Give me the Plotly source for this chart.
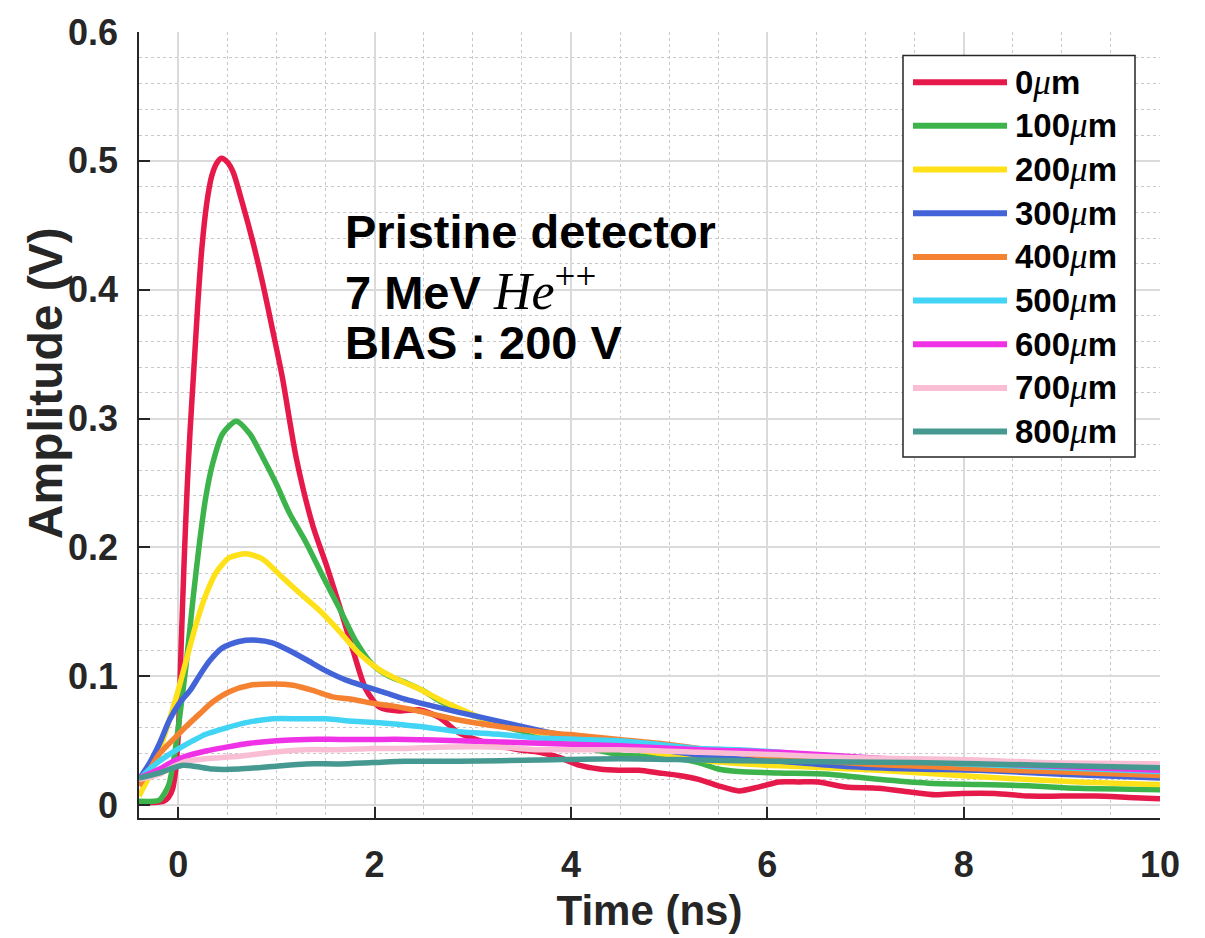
import plotly.graph_objects as go

# ---------------- data ----------------
labels = ["0", "100", "200", "300", "400", "500", "600", "700", "800"]
colors = ["#E6194B", "#3CB44B", "#FFE119", "#4363D8", "#F58231",
          "#42D4F4", "#F032E6", "#FABED4", "#469990"]

t_0 = [-0.4, -0.25, -0.15, -0.1, -0.06, -0.03, 0.0, 0.03, 0.06, 0.09,
       0.12, 0.16, 0.2, 0.24, 0.29, 0.34, 0.39, 0.44, 0.5, 0.56,
       0.65, 0.76, 0.86, 0.96, 1.06, 1.2, 1.37, 1.51, 1.64, 1.78,
       1.91, 2.05, 2.25, 2.45, 2.66, 2.86, 3.07, 3.27, 3.47, 3.68,
       3.88, 4.08, 4.29, 4.49, 4.69, 4.9, 5.1, 5.3, 5.5, 5.71,
       5.91, 6.12, 6.32, 6.52, 6.8, 7.13, 7.47, 7.71, 7.98, 8.32,
       8.66, 9.0, 9.34, 9.68, 10.0]
v_0 = [0.002, 0.002, 0.003, 0.006, 0.012, 0.025, 0.055, 0.125, 0.19, 0.245,
       0.29, 0.34, 0.39, 0.432, 0.467, 0.488, 0.498, 0.502, 0.499, 0.491,
       0.468, 0.437, 0.405, 0.369, 0.332, 0.27, 0.217, 0.186, 0.155, 0.12,
       0.09, 0.076, 0.073, 0.074, 0.068, 0.056, 0.05, 0.046, 0.043, 0.041,
       0.037, 0.031, 0.028, 0.027, 0.027, 0.025, 0.023, 0.02, 0.015, 0.011,
       0.014, 0.018, 0.018, 0.018, 0.014, 0.013, 0.01, 0.008, 0.009, 0.009,
       0.007, 0.007, 0.007, 0.006, 0.005]

t_100 = [-0.4, -0.25, -0.19, -0.1, -0.05, 0.01, 0.08, 0.15, 0.22, 0.28,
         0.35, 0.45, 0.59, 0.73, 0.86, 1.0, 1.13, 1.3, 1.47, 1.64,
         1.81, 1.98, 2.15, 2.32, 2.49, 2.66, 2.86, 3.07, 3.27, 3.47,
         3.68, 3.88, 4.08, 4.5, 5.0, 5.3, 5.5, 5.71, 6.12, 6.63,
         7.13, 7.64, 8.15, 8.66, 9.17, 10.0]
v_100 = [0.003, 0.003, 0.004, 0.015, 0.033, 0.066, 0.109, 0.16, 0.206, 0.239,
         0.265, 0.288, 0.298, 0.288, 0.27, 0.249, 0.227, 0.204, 0.178, 0.153,
         0.127, 0.109, 0.1, 0.095, 0.089, 0.081, 0.074, 0.068, 0.062, 0.058,
         0.054, 0.05, 0.046, 0.039, 0.037, 0.033, 0.028, 0.026, 0.025, 0.024,
         0.02, 0.017, 0.016, 0.015, 0.013, 0.012]

t_200 = [-0.4, -0.26, -0.12, -0.02, 0.08, 0.18, 0.28, 0.39, 0.52, 0.69,
         0.86, 1.03, 1.23, 1.44, 1.64, 1.85, 2.05, 2.25, 2.46, 2.66,
         2.86, 3.07, 3.27, 3.47, 3.68, 4.08, 4.5, 5.0, 5.43, 6.0,
         6.32, 7.13, 8.15, 9.17, 10.0]
v_200 = [0.007, 0.028, 0.059, 0.084, 0.112, 0.14, 0.163, 0.181, 0.192, 0.195,
         0.191, 0.179, 0.165, 0.151, 0.135, 0.117, 0.105, 0.097, 0.09, 0.082,
         0.075, 0.068, 0.063, 0.06, 0.056, 0.05, 0.045, 0.039, 0.034, 0.031,
         0.03, 0.027, 0.022, 0.018, 0.016]

t_300 = [-0.4, -0.29, -0.19, -0.09, 0.01, 0.12, 0.22, 0.32, 0.45, 0.62,
         0.8, 0.96, 1.13, 1.3, 1.51, 1.71, 1.91, 2.12, 2.32, 2.53,
         2.86, 3.27, 3.68, 4.08, 4.5, 5.0, 5.5, 6.12, 6.8, 7.5,
         8.15, 9.0, 10.0]
v_300 = [0.02, 0.033, 0.048, 0.066, 0.079, 0.089, 0.101, 0.112, 0.122, 0.127,
         0.128, 0.126, 0.12, 0.113, 0.104, 0.097, 0.092, 0.087, 0.082, 0.078,
         0.072, 0.065, 0.058, 0.052, 0.048, 0.042, 0.037, 0.034, 0.03, 0.028,
         0.027, 0.024, 0.021]

t_400 = [-0.4, -0.29, -0.19, -0.05, 0.08, 0.22, 0.35, 0.52, 0.73, 0.96,
         1.17, 1.37, 1.57, 1.78, 1.98, 2.18, 2.39, 2.62, 2.86, 3.27,
         3.68, 4.08, 4.49, 4.9, 5.3, 6.12, 7.0, 7.64, 8.5, 9.3, 10.0]
v_400 = [0.015, 0.028, 0.04, 0.051, 0.061, 0.071, 0.08, 0.088, 0.093, 0.094,
         0.093, 0.089, 0.084, 0.082, 0.079, 0.077, 0.074, 0.07, 0.066, 0.061,
         0.057, 0.054, 0.051, 0.048, 0.044, 0.037, 0.032, 0.03, 0.027, 0.025, 0.023]

t_500 = [-0.4, -0.26, -0.12, 0.01, 0.15, 0.28, 0.49, 0.69, 0.96, 1.23,
         1.51, 1.78, 2.05, 2.46, 2.86, 3.27, 3.68, 4.08, 4.49, 4.9,
         5.3, 5.71, 6.12, 7.0, 8.0, 9.0, 10.0]
v_500 = [0.02, 0.03, 0.038, 0.044, 0.05, 0.055, 0.06, 0.064, 0.067, 0.067,
         0.067, 0.065, 0.064, 0.061, 0.057, 0.055, 0.052, 0.051, 0.05, 0.047,
         0.044, 0.043, 0.041, 0.036, 0.032, 0.029, 0.026]

t_600 = [-0.4, -0.19, -0.05, 0.08, 0.28, 0.49, 0.73, 1.0, 1.3, 1.64,
         1.98, 2.32, 2.86, 3.68, 4.49, 5.3, 6.12, 7.0, 8.0, 9.0, 10.0]
v_600 = [0.021, 0.028, 0.034, 0.038, 0.042, 0.045, 0.048, 0.05, 0.051, 0.051,
         0.051, 0.051, 0.05, 0.048, 0.046, 0.043, 0.041, 0.037, 0.033, 0.03, 0.027]

t_700 = [-0.4, -0.19, -0.05, 0.08, 0.28, 0.62, 0.96, 1.3, 1.64, 1.98,
         2.32, 2.66, 3.27, 3.68, 4.49, 5.3, 6.12, 6.8, 7.47, 8.15, 8.8, 10.0]
v_700 = [0.02, 0.024, 0.03, 0.034, 0.036, 0.038, 0.041, 0.043, 0.043, 0.044,
         0.044, 0.045, 0.045, 0.043, 0.043, 0.041, 0.039, 0.037, 0.036, 0.035,
         0.033, 0.032]

t_800 = [-0.4, -0.19, -0.05, 0.05, 0.18, 0.35, 0.62, 0.96, 1.3, 1.64,
         1.98, 2.32, 2.86, 3.68, 4.49, 5.3, 6.12, 7.47, 8.8, 10.0]
v_800 = [0.021, 0.025, 0.029, 0.031, 0.03, 0.028, 0.028, 0.03, 0.032, 0.032,
         0.033, 0.034, 0.034, 0.035, 0.036, 0.035, 0.034, 0.033, 0.031, 0.029]

times = [t_0, t_100, t_200, t_300, t_400, t_500, t_600, t_700, t_800]
values = [v_0, v_100, v_200, v_300, v_400, v_500, v_600, v_700, v_800]

x_ticks = [0, 2, 4, 6, 8, 10]
y_ticks = [0, 0.1, 0.2, 0.3, 0.4, 0.5, 0.6]
y_tick_text = ["0", "0.1", "0.2", "0.3", "0.4", "0.5", "0.6"]

MATH = "font-family:Liberation Serif;font-style:italic;font-weight:normal"
note_lines = ["Pristine detector",
              "7 MeV <span style='" + MATH + ";font-size:52px'>He</span>"
              "<sup><span style='font-family:Liberation Serif;font-weight:normal;font-size:37px'>++</span></sup>",
              "BIAS : 200 V"]

# ---------------- figure ----------------
W, H = 1205, 938
ML, MR, MT, MB = 139, 45, 24, 115
PW, PH = W - ML - MR, H - MT - MB

def px_x(px):
    return (px - ML) / PW

def px_y(py):
    return (H - MB - py) / PH

SANS = "Liberation Sans, Arial, sans-serif"
DARK = "#262626"

fig = go.Figure()
for lab, col, t, v in zip(labels, colors, times, values):
    fig.add_trace(go.Scatter(
        x=t, y=v, mode="lines", name=lab + "μm",
        line=dict(color=col, width=5.5, shape="spline", smoothing=0.7),
        showlegend=False, hoverinfo="x+y+name"))

axis_common = dict(
    showline=True, linecolor=DARK, linewidth=1.5,
    ticks="inside", ticklen=11, tickwidth=1.5, tickcolor=DARK,
    showgrid=True, gridcolor="#DADADA", gridwidth=1.5,
    zeroline=False, mirror=False,
    tickfont=dict(family=SANS, size=36, color=DARK, weight="bold"),
)

fig.update_xaxes(
    range=[-0.4, 10], tickmode="array", tickvals=x_ticks,
    ticktext=[str(v) for v in x_ticks], ticklabelstandoff=14,
    minor=dict(dtick=0.5, tick0=0, showgrid=True, gridcolor="#C8C8C8",
               griddash="dot", gridwidth=1, ticks=""),
    title=dict(text="Time (ns)", standoff=12,
               font=dict(family=SANS, size=42, color=DARK, weight="bold")),
    **axis_common)
fig.update_yaxes(
    range=[-0.01, 0.6], tickmode="array", tickvals=y_ticks,
    ticktext=y_tick_text, ticklabelstandoff=12,
    minor=dict(dtick=0.02, tick0=0, showgrid=True, gridcolor="#C8C8C8",
               griddash="dot", gridwidth=1, ticks=""),
    **axis_common)

annotations = []
# y-axis title
annotations.append(dict(
    text="Amplitude (V)", xref="paper", yref="paper",
    x=px_x(45), y=px_y(381), xanchor="center", yanchor="middle",
    textangle=-90, showarrow=False,
    font=dict(family=SANS, size=48, color=DARK, weight="bold")))

# note text
note_y = [227, 284, 340]
for line, py in zip(note_lines, note_y):
    annotations.append(dict(
        text=line, xref="paper", yref="paper",
        x=px_x(343), y=px_y(py), xanchor="left", yanchor="middle",
        showarrow=False,
        font=dict(family=SANS, size=47, color="black", weight="bold")))

# custom legend
shapes = []
box_l, box_r, box_t, box_b = 903, 1135, 48, 456
shapes.append(dict(type="rect", xref="paper", yref="paper",
                   x0=px_x(box_l), x1=px_x(box_r), y0=px_y(box_b), y1=px_y(box_t),
                   line=dict(color=DARK, width=1.5), fillcolor="white", layer="above"))
row0, row_step = 75, 44.4
for i, (lab, col) in enumerate(zip(labels, colors)):
    cy = row0 + i * row_step
    shapes.append(dict(type="line", xref="paper", yref="paper",
                       x0=px_x(913), x1=px_x(1007), y0=px_y(cy), y1=px_y(cy),
                       line=dict(color=col, width=6), layer="above"))
    annotations.append(dict(
        text=lab + "<span style='" + MATH + ";font-size:35px'>μ</span>m",
        xref="paper", yref="paper", x=px_x(1013), y=px_y(cy),
        xanchor="left", yanchor="middle", showarrow=False,
        font=dict(family=SANS, size=33, color="black", weight="bold")))

fig.update_layout(
    width=W, height=H,
    margin=dict(l=ML, r=MR, t=MT, b=MB),
    paper_bgcolor="white", plot_bgcolor="white",
    showlegend=False,
    annotations=annotations, shapes=shapes,
)

fig.write_html("out.html")
